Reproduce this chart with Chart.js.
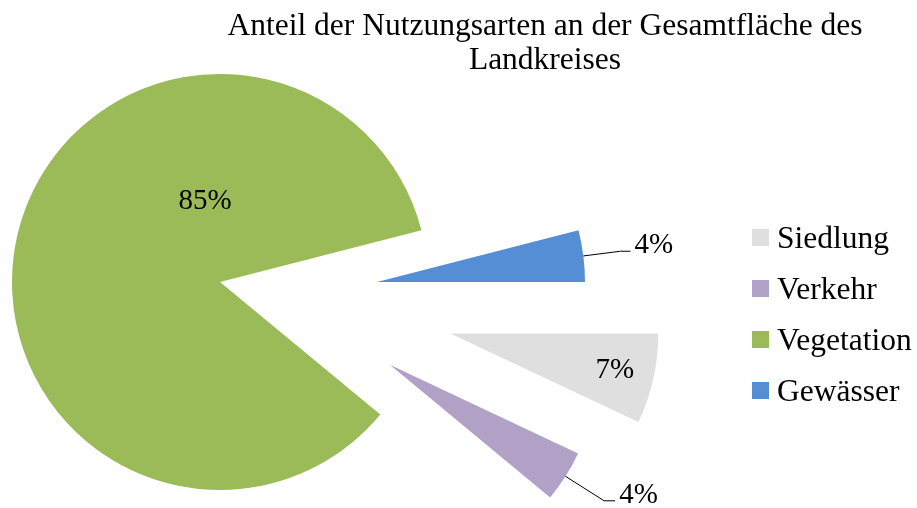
<!DOCTYPE html>
<html>
<head>
<meta charset="utf-8">
<script src="https://cdn.jsdelivr.net/npm/chart.js@4/dist/chart.umd.min.js"></script>
<style>
  html, body { margin:0; padding:0; background:#fff; width:917px; height:508px; overflow:hidden; }
  #wrap { position:relative; width:917px; height:508px; }
  #c { position:absolute; left:0; top:0; }
  #title { position:absolute; left:145px; top:8px; width:800px; text-align:center;
           font-family:"Liberation Serif","Times New Roman",serif; font-size:31.5px; line-height:34px; color:#000; }
  #legend { position:absolute; left:752px; top:212px; font-family:"Liberation Serif","Times New Roman",serif;
            font-size:31.5px; color:#000; }
  .item { display:flex; align-items:center; height:51px; line-height:51px; white-space:nowrap; }
  .box { width:17px; height:17px; margin-right:8px; flex:none; }
</style>
</head>
<body>
<div id="wrap">
  <canvas id="c" width="917" height="508"></canvas>
  <div id="title">Anteil der Nutzungsarten an der Gesamtfläche des<br>Landkreises</div>
  <div id="legend"></div>
</div>
<script>
// ---- data ----
const categories = ['Siedlung', 'Verkehr', 'Vegetation', 'Gewässer'];
const shares = [7, 4, 85, 4];
const sliceColors = ['#DFDFDF', '#B2A1C7', '#9BBB59', '#558ED5'];

// ---- styling: explosion of slices (distance px, optional direction deg) ----
const explodeStyle = [
  { dist: 236 },
  { dist: 189, dir: 26 },
  { dist: 0 },
  { dist: 157, dir: 0 }
];
// data label placement styles
const labelStyle = [
  { mode: 'inside', r: 0.81 },
  { mode: 'outside', r1: 1.0, r2: 1.22, tail: 11 },
  { mode: 'inside', r: 0.396, angle: 259.5 },
  { mode: 'outside', r1: 1.0, r2: 1.18, tail: 10 }
];

function sliceCenter(arc, i) {
  const e = explodeStyle[i] || {};
  const mid = (arc.startAngle + arc.endAngle) / 2;
  const dir = e.dir != null ? e.dir * Math.PI / 180 : mid;
  const d = e.dist || 0;
  return { x: arc.x + Math.cos(dir) * d, y: arc.y + Math.sin(dir) * d, dx: Math.cos(dir) * d, dy: Math.sin(dir) * d, mid };
}

const explodePlugin = {
  id: 'explodeSlices',
  beforeDatasetDraw(chart, args) {
    const ctx = chart.ctx;
    args.meta.data.forEach((arc, i) => {
      const c = sliceCenter(arc, i);
      ctx.save();
      ctx.translate(c.dx, c.dy);
      arc.draw(ctx);
      ctx.restore();
    });
    return false;
  }
};

const labelPlugin = {
  id: 'sliceLabels',
  afterDatasetsDraw(chart) {
    const ctx = chart.ctx;
    const meta = chart.getDatasetMeta(0);
    const vals = chart.data.datasets[0].data;
    const total = vals.reduce((a, b) => a + b, 0);
    ctx.save();
    ctx.font = '29px "Liberation Serif", "Times New Roman", serif';
    ctx.fillStyle = '#000';
    ctx.strokeStyle = '#000';
    ctx.lineWidth = 1;
    meta.data.forEach((arc, i) => {
      const txt = Math.round(vals[i] / total * 100) + '%';
      const c = sliceCenter(arc, i);
      const R = arc.outerRadius;
      const st = labelStyle[i];
      if (st.mode === 'inside') {
        const a = st.angle != null ? st.angle * Math.PI / 180 : c.mid;
        ctx.textAlign = 'center';
        ctx.textBaseline = 'middle';
        ctx.fillText(txt, c.x + Math.cos(a) * R * st.r, c.y + Math.sin(a) * R * st.r);
      } else {
        const a = c.mid;
        const p1 = { x: c.x + Math.cos(a) * R * st.r1, y: c.y + Math.sin(a) * R * st.r1 };
        const p2 = { x: c.x + Math.cos(a) * R * st.r2, y: c.y + Math.sin(a) * R * st.r2 };
        const p3 = { x: p2.x + st.tail, y: p2.y };
        ctx.beginPath();
        ctx.moveTo(p1.x, p1.y);
        ctx.lineTo(p2.x, p2.y);
        ctx.lineTo(p3.x, p3.y);
        ctx.stroke();
        ctx.textAlign = 'left';
        ctx.textBaseline = 'alphabetic';
        ctx.fillText(txt, p3.x + 4, p2.y + 2);
      }
    });
    ctx.restore();
  }
};

const chart = new Chart(document.getElementById('c'), {
  type: 'pie',
  data: {
    labels: categories,
    datasets: [{
      data: shares,
      backgroundColor: sliceColors,
      borderWidth: 0,
      hoverOffset: 0,
      clip: false
    }]
  },
  options: {
    responsive: false,
    animation: false,
    rotation: 90,
    radius: 208,
    layout: { padding: { left: 0, right: 477, top: 56, bottom: 0 } },
    events: [],
    plugins: {
      legend: { display: false },
      title: { display: false },
      tooltip: { enabled: false }
    }
  },
  plugins: [explodePlugin, labelPlugin]
});

// HTML legend built from the chart's own legend items
const items = Chart.overrides.pie.plugins.legend.labels.generateLabels(chart);
const leg = document.getElementById('legend');
items.forEach(it => {
  const row = document.createElement('div');
  row.className = 'item';
  const b = document.createElement('span');
  b.className = 'box';
  b.style.background = it.fillStyle;
  const t = document.createElement('span');
  t.textContent = it.text;
  row.appendChild(b);
  row.appendChild(t);
  leg.appendChild(row);
});
</script>
</body>
</html>
